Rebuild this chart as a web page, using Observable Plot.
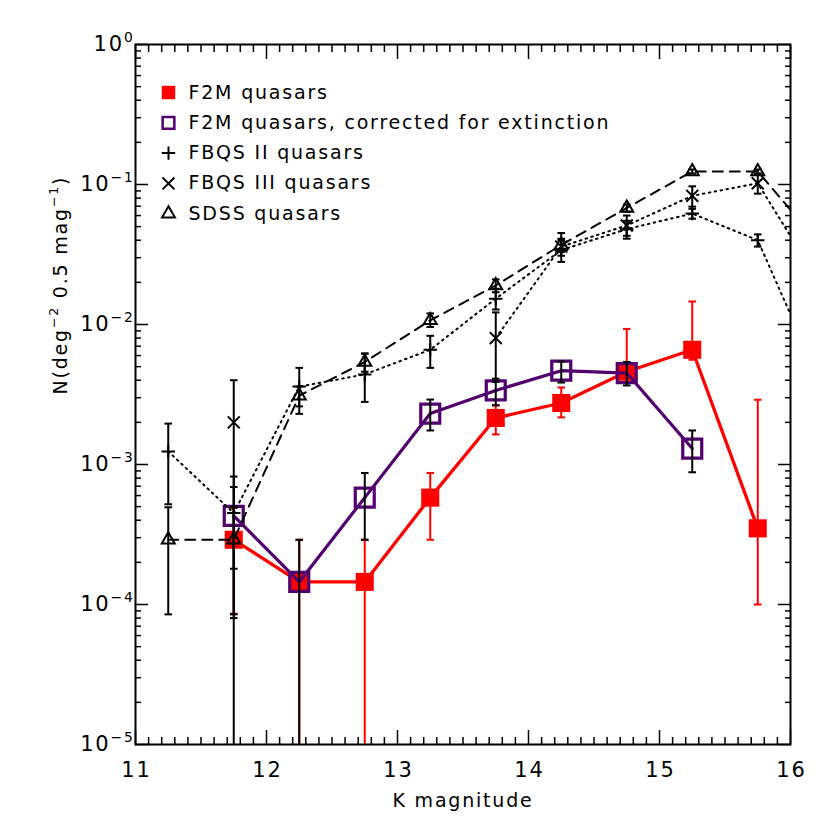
<!DOCTYPE html>
<html><head><meta charset="utf-8">
<script src="https://cdn.jsdelivr.net/npm/d3@7"></script>
<script src="https://cdn.jsdelivr.net/npm/@observablehq/plot@0.6"></script>
<style>body{margin:0;background:#fff} #chart svg text{letter-spacing:1.8px}</style>
</head><body><div id="chart"></div>
<script>
// K magnitude bins
const K = [11.25, 11.75, 12.25, 12.75, 13.25, 13.75, 14.25, 14.75, 15.25, 15.75, 16.25];
const Z = 1e-9; // error bar reaching zero (below the axis)

// F2M quasars
const f2m   = [null, 2.9e-4, 1.45e-4, 1.45e-4, 5.8e-4, 2.15e-3, 2.75e-3, 4.6e-3, 6.6e-3, 3.5e-4, null];
const f2mLo = [null, 8.6e-5, Z, Z, 2.9e-4, 1.64e-3, 2.17e-3, 3.9e-3, 5.6e-3, 1.0e-4, null];
const f2mHi = [null, 4.9e-4, 2.9e-4, 2.9e-4, 8.7e-4, 2.64e-3, 3.55e-3, 9.3e-3, 1.46e-2, 2.9e-3, null];

// F2M quasars, corrected for extinction
const f2mC   = [null, 4.3e-4, 1.45e-4, 5.8e-4, 2.31e-3, 3.38e-3, 4.68e-3, 4.5e-3, 1.3e-3, null, null];
const f2mCLo = [null, 1.8e-4, Z, 2.9e-4, 1.75e-3, 2.65e-3, 3.85e-3, 3.67e-3, 8.8e-4, null, null];
const f2mCHi = [null, 6.9e-4, 2.9e-4, 8.7e-4, 2.91e-3, 4.1e-3, 5.44e-3, 5.4e-3, 1.75e-3, null, null];

// FBQS II quasars
const fb2   = [1.24e-3, 4.5e-4, 3.6e-3, 4.4e-3, 6.6e-3, 1.53e-2, 3.4e-2, 4.8e-2, 6.2e-2, 4.0e-2, 3.5e-3];
const fb2Lo = [5.2e-4, 8.0e-5, 2.3e-3, 2.8e-3, 4.9e-3, 1.28e-2, 2.8e-2, 4.1e-2, 5.7e-2, 3.6e-2, null];
const fb2Hi = [1.96e-3, 8.2e-4, 4.9e-3, 6.2e-3, 8.3e-3, 1.8e-2, 4.0e-2, 5.5e-2, 6.7e-2, 4.4e-2, null];

// FBQS III quasars
const fb3   = [null, 2.0e-3, null, null, null, 8.0e-3, 3.6e-2, 5.1e-2, 8.3e-2, 1.02e-1, 1.8e-2];
const fb3Lo = [null, Z, null, null, null, 3.9e-3, 3.1e-2, 4.3e-2, 6.95e-2, 8.6e-2, null];
const fb3Hi = [null, 4.0e-3, null, null, null, 1.22e-2, 4.5e-2, 6.0e-2, 9.7e-2, 1.19e-1, null];

// SDSS quasars
const sdss   = [2.9e-4, 2.9e-4, 3.1e-3, 5.4e-3, 1.07e-2, 1.9e-2, 3.7e-2, 6.8e-2, 1.24e-1, 1.24e-1, 3.5e-2];
const sdssLo = [8.5e-5, 8.5e-5, 2.6e-3, 4.6e-3, 9.6e-3, 1.7e-2, 3.3e-2, 6.4e-2, 1.2e-1, 1.2e-1, null];
const sdssHi = [4.95e-4, 4.95e-4, 3.6e-3, 6.2e-3, 1.2e-2, 2.1e-2, 4.1e-2, 7.2e-2, 1.28e-1, 1.28e-1, null];

const legendLabels = ["F2M quasars", "F2M quasars, corrected for extinction", "FBQS II quasars", "FBQS III quasars", "SDSS quasars"];
const xTickLabels = [11, 12, 13, 14, 15, 16];
const yTickLabels = [1e-5, 1e-4, 1e-3, 1e-2, 1e-1, 1];
const xLabel = "K magnitude";
const yLabel = "N(deg^{\u22122} 0.5 mag^{\u22121})";

const RED = "#ff0000", PURPLE = "#520070";

const rows = (v, lo, hi) => K.map((k, i) => ({K: k, N: v[i], lo: lo[i], hi: hi[i]}));
const R = rows(f2m, f2mLo, f2mHi);
const P = rows(f2mC, f2mCLo, f2mCHi);
const B2 = rows(fb2, fb2Lo, fb2Hi);
const B3 = rows(fb3, fb3Lo, fb3Hi);
const S = rows(sdss, sdssLo, sdssHi);

const cap = {draw(ctx, size) { const r = Math.sqrt(size / Math.PI); ctx.moveTo(-r, 0); ctx.lineTo(r, 0); }};

function errorBars(data, color, w) {
  return [
    Plot.ruleX(data, {x: "K", y1: "lo", y2: "hi", stroke: color, strokeWidth: w, clip: true}),
    Plot.dot(data, {x: "K", y: "lo", symbol: cap, r: 3.8, stroke: color, strokeWidth: w, fill: "none", clip: true}),
    Plot.dot(data, {x: "K", y: "hi", symbol: cap, r: 3.8, stroke: color, strokeWidth: w, fill: "none", clip: true})
  ];
}

// minor tick positions
const xMinor = d3.range(110, 161).map(d => d / 10).filter(d => Math.abs(d - Math.round(d)) > 1e-9);
const yMinor = [];
for (let e = -5; e < 0; e++) for (let m = 2; m <= 9; m++) yMinor.push(m * Math.pow(10, e));

const fontStyle = {fontFamily: "DejaVu Sans", fill: "black"};

const legendMarks = [];
const legendSym = [
  {symbol: "square", r: 7.6, fill: RED, stroke: "none", strokeWidth: 0},
  {symbol: "square", r: 6.6, fill: "none", stroke: PURPLE, strokeWidth: 2.5},
  {symbol: "plus", r: 4.4, fill: "none", stroke: "black", strokeWidth: 2},
  {symbol: "times", r: 5.5, fill: "none", stroke: "black", strokeWidth: 2},
  {symbol: "triangle", r: 4.8, fill: "none", stroke: "black", strokeWidth: 2}
];
legendLabels.forEach((lab, i) => {
  const dy = 48 + i * 30.3;
  legendMarks.push(Plot.dot([lab], {x: null, y: null, frameAnchor: "top-left", dx: 33, dy, ...legendSym[i]}));
  legendMarks.push(Plot.text([lab], {frameAnchor: "top-left", dx: 53, dy, text: d => d, textAnchor: "start", lineAnchor: "middle", fontSize: 19, ...fontStyle}));
});

const chart = Plot.plot({
  width: 830, height: 830,
  marginLeft: 135, marginRight: 40, marginTop: 44, marginBottom: 86,
  style: {fontFamily: "DejaVu Sans", background: "white", color: "black"},
  x: {domain: [11, 16], axis: null},
  y: {type: "log", domain: [1e-5, 1], axis: null},
  marks: [
    // F2M
    Plot.line(R, {x: "K", y: "N", stroke: RED, strokeWidth: 3.3, clip: true}),
    ...errorBars(R, RED, 2),
    Plot.dot(R, {x: "K", y: "N", symbol: "square", r: 10.2, fill: RED, clip: true}),
    // F2M corrected
    Plot.line(P, {x: "K", y: "N", stroke: PURPLE, strokeWidth: 3.2, clip: true}),
    Plot.dot(P, {x: "K", y: "N", symbol: "square", r: 10.7, fill: "none", stroke: PURPLE, strokeWidth: 3.2, clip: true}),
    ...errorBars(P, "black", 2),
    // FBQS II
    Plot.line(B2, {x: "K", y: "N", stroke: "black", strokeWidth: 2, strokeDasharray: "1.6,4.4", clip: true}),
    ...errorBars(B2, "black", 2),
    Plot.dot(B2, {x: "K", y: "N", symbol: "plus", r: 4.4, stroke: "black", strokeWidth: 2, clip: true}),
    // FBQS III
    Plot.line(B3, {x: "K", y: "N", stroke: "black", strokeWidth: 2, strokeDasharray: "1.6,4.4", clip: true}),
    ...errorBars(B3, "black", 2),
    Plot.dot(B3, {x: "K", y: "N", symbol: "times", r: 5.5, stroke: "black", strokeWidth: 2, clip: true}),
    // SDSS
    Plot.line(S, {x: "K", y: "N", stroke: "black", strokeWidth: 2, strokeDasharray: "10,7", clip: true}),
    ...errorBars(S, "black", 2),
    Plot.dot(S, {x: "K", y: "N", symbol: "triangle", r: 4.8, fill: "none", stroke: "black", strokeWidth: 2, clip: true}),
    // frame and ticks (pointing inward)
    Plot.frame({stroke: "black", strokeWidth: 2}),
    Plot.axisX({anchor: "bottom", ticks: xTickLabels, tickSize: -14, tickFormat: () => "", strokeWidth: 1.5, label: null}),
    Plot.axisX({anchor: "top", ticks: xTickLabels, tickSize: -14, tickFormat: () => "", strokeWidth: 1.5, label: null}),
    Plot.axisX({anchor: "bottom", ticks: xMinor, tickSize: -7, tickFormat: () => "", strokeWidth: 1.5, label: null}),
    Plot.axisX({anchor: "top", ticks: xMinor, tickSize: -7, tickFormat: () => "", strokeWidth: 1.5, label: null}),
    Plot.axisY({anchor: "left", ticks: yTickLabels, tickSize: -13, tickFormat: () => "", strokeWidth: 1.5, label: null}),
    Plot.axisY({anchor: "right", ticks: yTickLabels, tickSize: -13, tickFormat: () => "", strokeWidth: 1.5, label: null}),
    Plot.axisY({anchor: "left", ticks: yMinor, tickSize: -6, tickFormat: () => "", strokeWidth: 1.5, label: null}),
    Plot.axisY({anchor: "right", ticks: yMinor, tickSize: -6, tickFormat: () => "", strokeWidth: 1.5, label: null}),
    // tick labels
    Plot.text(xTickLabels, {x: d => d, frameAnchor: "bottom", dy: 26, dx: 1, text: d => String(d), lineAnchor: "middle", fontSize: 21, ...fontStyle}),
    Plot.text(yTickLabels, {y: d => d, frameAnchor: "left", dx: -1, text: d => "10^{" + String(Math.round(Math.log10(d))).replace("-", "\u2212") + "}", textAnchor: "end", lineAnchor: "middle", fontSize: 21, ...fontStyle}),
    // axis titles
    Plot.text([xLabel], {frameAnchor: "bottom", dy: 56, text: d => d, lineAnchor: "middle", fontSize: 19, ...fontStyle}),
    Plot.text([yLabel], {frameAnchor: "left", dx: -75, rotate: -90, text: d => d, lineAnchor: "middle", fontSize: 19, ...fontStyle}),
    ...legendMarks
  ]
});
document.getElementById("chart").appendChild(chart);

// turn ^{...} into superscript tspans
d3.select(chart).selectAll("text").each(function() {
  const t = this.textContent;
  if (!t.includes("^{")) return;
  const fs = parseFloat(getComputedStyle(this).fontSize) || 19;
  const parts = t.split(/\^\{([^}]*)\}/);
  this.textContent = "";
  let prevSup = false;
  parts.forEach((p, i) => {
    const sup = i % 2 === 1;
    if (!p) return;
    const ts = d3.select(this).append("tspan").text(p);
    if (sup) { ts.attr("dy", -0.45 * fs).attr("font-size", 0.66 * fs); prevSup = true; }
    else if (prevSup) { ts.attr("dy", 0.45 * fs); prevSup = false; }
  });
});
</script>
</body></html>
